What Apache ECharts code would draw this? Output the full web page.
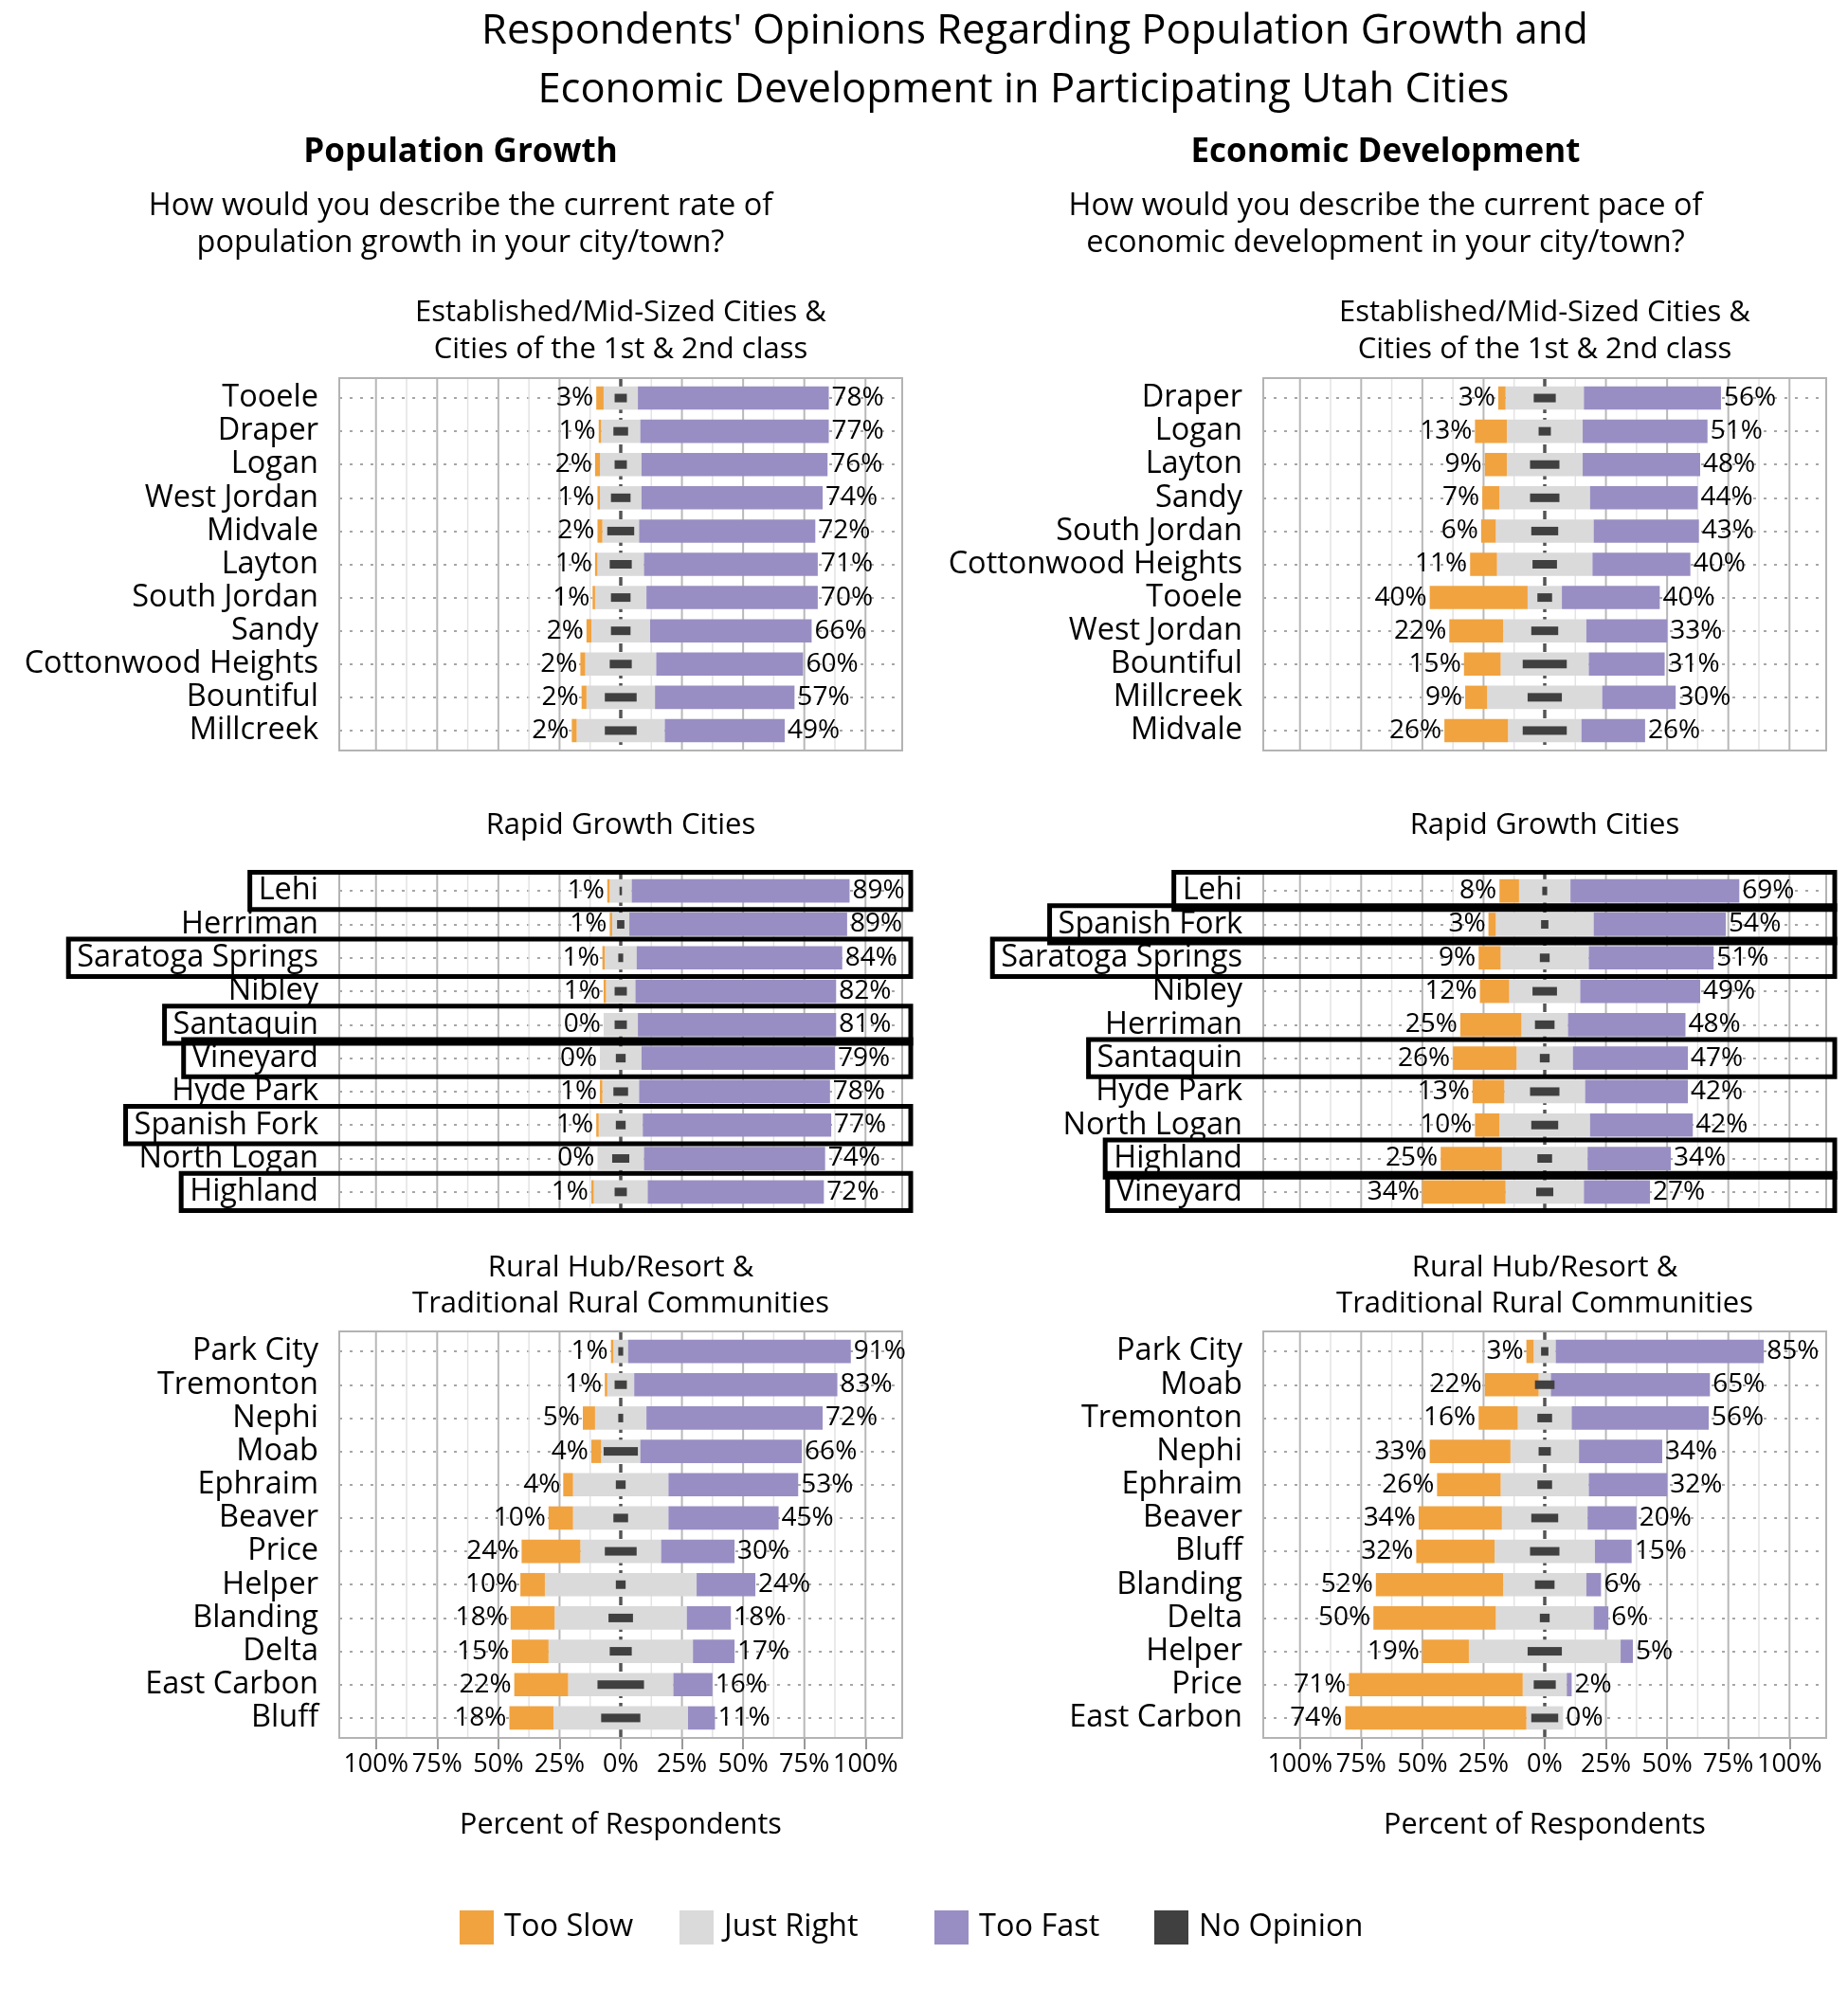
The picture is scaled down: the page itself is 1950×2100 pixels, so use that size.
<!DOCTYPE html>
<html>
<head>
<meta charset="utf-8">
<title>Population Growth and Economic Development</title>
<script src="https://cdn.jsdelivr.net/npm/echarts@6/dist/echarts.min.js"></script>
<style>
  html, body { margin: 0; padding: 0; background: #fff; }
  #chart { width: 1950px; height: 2100px; }
</style>
</head>
<body>
<div id="chart"></div>
<script>
// population growth, established / mid-sized cities
const popEstCities = ['Tooele', 'Draper', 'Logan', 'West Jordan', 'Midvale', 'Layton', 'South Jordan', 'Sandy', 'Cottonwood Heights', 'Bountiful', 'Millcreek'];
const popEstSlow = [3, 1, 2, 1, 2, 1, 1, 2, 2, 2, 2];
const popEstRight = [14, 16, 17, 17, 15, 19, 21, 24, 29, 28, 36];
const popEstFast = [78, 77, 76, 74, 72, 71, 70, 66, 60, 57, 49];
const popEstNone = [5, 6, 5, 8, 11, 9, 8, 8, 9, 13, 13];

// economic development, established / mid-sized cities
const econEstCities = ['Draper', 'Logan', 'Layton', 'Sandy', 'South Jordan', 'Cottonwood Heights', 'Tooele', 'West Jordan', 'Bountiful', 'Millcreek', 'Midvale'];
const econEstSlow = [3, 13, 9, 7, 6, 11, 40, 22, 15, 9, 26];
const econEstRight = [32, 31, 31, 37, 40, 39, 14, 34, 36, 47, 30];
const econEstFast = [56, 51, 48, 44, 43, 40, 40, 33, 31, 30, 26];
const econEstNone = [9, 5, 12, 12, 11, 10, 6, 11, 18, 14, 18];

// population growth, rapid growth cities
const popRapidCities = ['Lehi', 'Herriman', 'Saratoga Springs', 'Nibley', 'Santaquin', 'Vineyard', 'Hyde Park', 'Spanish Fork', 'North Logan', 'Highland'];
const popRapidSlow = [1, 1, 1, 1, 0, 0, 1, 1, 0, 1];
const popRapidRight = [9, 7, 13, 12, 14, 17, 15, 18, 19, 22];
const popRapidFast = [89, 89, 84, 82, 81, 79, 78, 77, 74, 72];
const popRapidNone = [1, 3, 2, 5, 5, 4, 6, 4, 7, 5];

// economic development, rapid growth cities
const econRapidCities = ['Lehi', 'Spanish Fork', 'Saratoga Springs', 'Nibley', 'Herriman', 'Santaquin', 'Hyde Park', 'North Logan', 'Highland', 'Vineyard'];
const econRapidSlow = [8, 3, 9, 12, 25, 26, 13, 10, 25, 34];
const econRapidRight = [21, 40, 36, 29, 19, 23, 33, 37, 35, 32];
const econRapidFast = [69, 54, 51, 49, 48, 47, 42, 42, 34, 27];
const econRapidNone = [2, 3, 4, 10, 8, 4, 12, 11, 6, 7];

// population growth, rural hub / resort & traditional rural
const popRuralCities = ['Park City', 'Tremonton', 'Nephi', 'Moab', 'Ephraim', 'Beaver', 'Price', 'Helper', 'Blanding', 'Delta', 'East Carbon', 'Bluff'];
const popRuralSlow = [1, 1, 5, 4, 4, 10, 24, 10, 18, 15, 22, 18];
const popRuralRight = [6, 11, 21, 16, 39, 39, 33, 62, 54, 59, 43, 55];
const popRuralFast = [91, 83, 72, 66, 53, 45, 30, 24, 18, 17, 16, 11];
const popRuralNone = [2, 5, 2, 14, 4, 6, 13, 4, 10, 9, 19, 16];

// economic development, rural hub / resort & traditional rural
const econRuralCities = ['Park City', 'Moab', 'Tremonton', 'Nephi', 'Ephraim', 'Beaver', 'Bluff', 'Blanding', 'Delta', 'Helper', 'Price', 'East Carbon'];
const econRuralSlow = [3, 22, 16, 33, 26, 34, 32, 52, 50, 19, 71, 74];
const econRuralRight = [9, 5, 22, 28, 36, 35, 41, 34, 40, 62, 18, 15];
const econRuralFast = [85, 65, 56, 34, 32, 20, 15, 6, 6, 5, 2, 0];
const econRuralNone = [3, 8, 6, 5, 6, 11, 12, 8, 4, 14, 9, 11];

// cities boxed in the rapid growth panels
const highlighted = ['Lehi', 'Saratoga Springs', 'Santaquin', 'Vineyard', 'Spanish Fork', 'Highland'];

const tickValues = [-100, -75, -50, -25, 0, 25, 50, 75, 100];
const gridMajor = [-100, -75, -50, -25, 25, 50, 75, 100];
const gridMinor = [-87.5, -62.5, -37.5, -12.5, 12.5, 37.5, 62.5, 87.5];
const legendNames = ['Too Slow', 'Just Right', 'Too Fast', 'No Opinion'];

const FONT = "'Open Sans', sans-serif";
const LABEL_SIZE = 32.5;
const LABEL_MARGIN = 22;
const COLORS = { slow: '#f1a340', right: '#dadada', fast: '#998ec3', none: '#404040' };

const panels = [
  { cities: popEstCities, slow: popEstSlow, right: popEstRight, fast: popEstFast, none: popEstNone },
  { cities: econEstCities, slow: econEstSlow, right: econEstRight, fast: econEstFast, none: econEstNone },
  { cities: popRapidCities, slow: popRapidSlow, right: popRapidRight, fast: popRapidFast, none: popRapidNone, boxed: true },
  { cities: econRapidCities, slow: econRapidSlow, right: econRapidRight, fast: econRapidFast, none: econRapidNone, boxed: true },
  { cities: popRuralCities, slow: popRuralSlow, right: popRuralRight, fast: popRuralFast, none: popRuralNone },
  { cities: econRuralCities, slow: econRuralSlow, right: econRuralRight, fast: econRuralFast, none: econRuralNone }
];

// panel geometry (outer frame); rows leave 0.6 of a band above the first and below the last city
const colLeft = [358, 1333];
const rowTop = [399, 919, 1405];
const rowHeight = [393, 360, 429];
const PANEL_W = 594;
const PAD = 0.1;

const measureCtx = document.createElement('canvas').getContext('2d');
measureCtx.font = LABEL_SIZE + 'px ' + FONT;
function labelWidth(s) {
  return measureCtx.measureText(s).width;
}

function heading(str, x, y, size, weight) {
  return {
    type: 'text', x: x, y: y, silent: true,
    style: {
      text: str, fill: '#000', fontSize: size, fontFamily: FONT, fontWeight: weight || 'normal',
      align: 'center', verticalAlign: 'middle', textAlign: 'center', textVerticalAlign: 'middle'
    }
  };
}

const grids = [];
const xAxes = [];
const yAxes = [];
const series = [];

panels.forEach((p, i) => {
  const col = i % 2;
  const row = Math.floor(i / 2);
  const bottom = row === 2;
  const band = rowHeight[row] / (p.cities.length + 2 * PAD);
  grids.push({
    left: colLeft[col], top: rowTop[row] + PAD * band, width: PANEL_W, height: band * p.cities.length,
    show: false, outerBoundsMode: 'none'
  });
  xAxes.push({
    type: 'value', gridIndex: i, min: -115, max: 115, offset: PAD * band,
    axisLine: { show: false },
    splitLine: { show: false },
    axisTick: { show: bottom, customValues: tickValues, length: 12, lineStyle: { color: '#999', width: 2 } },
    axisLabel: {
      show: bottom, customValues: tickValues, margin: 15,
      fontSize: 27, fontFamily: FONT, color: '#000',
      formatter: v => Math.abs(v) + '%'
    },
    name: bottom ? 'Percent of Respondents' : '',
    nameLocation: 'middle', nameGap: 77,
    nameTextStyle: { fontSize: 30.5, fontFamily: FONT, color: '#000' }
  });
  yAxes.push({
    type: 'category', gridIndex: i, data: p.cities, inverse: true,
    axisLine: { show: false },
    axisTick: { show: true, alignWithLabel: true, length: 10, lineStyle: { color: '#a6a6a6', width: 2, type: [3, 8] } },
    axisLabel: { interval: 0, margin: LABEL_MARGIN, fontSize: LABEL_SIZE, fontFamily: FONT, color: '#000' },
    splitLine: { show: false }
  });
  yAxes.push({ type: 'category', gridIndex: i, data: p.cities, inverse: true, show: false });

  // panel frame, vertical grid lines and the dashed zero line
  series.push({
    type: 'custom', xAxisIndex: i, yAxisIndex: 2 * i, z: 1, silent: true, clip: false,
    encode: { x: 0, y: 1 },
    data: [[0, p.cities[0]]],
    renderItem: function (params, api) {
      const cs = params.coordSys;
      const pad = PAD * api.size([0, 1])[1];
      const top = cs.y - pad;
      const bot = cs.y + cs.height + pad;
      const vline = (v, stroke, width, dash) => {
        const x = api.coord([v, 0])[0];
        return { type: 'line', shape: { x1: x, y1: top, x2: x, y2: bot }, style: { stroke: stroke, lineWidth: width, lineDash: dash || null } };
      };
      const children = [].concat(
        gridMinor.map(v => vline(v, '#e3e3e3', 1.5)),
        gridMajor.map(v => vline(v, '#b8b8b8', 2)),
        [vline(0, '#555', 3.5, [9, 5])],
        [{ type: 'rect', shape: { x: cs.x, y: top, width: cs.width, height: bot - top }, style: { fill: 'none', stroke: '#b3b3b3', lineWidth: 2 } }]
      );
      return { type: 'group', children: children };
    }
  });

  // dotted guide through each city row
  series.push({
    type: 'line', data: [], xAxisIndex: i, yAxisIndex: 2 * i, silent: true,
    markLine: {
      z: 1, silent: true, symbol: ['none', 'none'], label: { show: false }, animation: false,
      emphasis: { disabled: true },
      data: p.cities.map(c => ({ yAxis: c, lineStyle: { color: '#a6a6a6', width: 2, type: [3, 8] } }))
    }
  });

  const base = { type: 'bar', xAxisIndex: i, yAxisIndex: 2 * i, barWidth: '70%', barGap: '-100%', z: 2, silent: true };
  const valueLabel = { show: true, distance: 3, fontSize: 28, fontFamily: FONT, color: '#000' };
  series.push(Object.assign({}, base, {
    name: 'Just Right', stack: 'neg' + i, itemStyle: { color: COLORS.right },
    data: p.right.map(v => -v / 2)
  }));
  series.push(Object.assign({}, base, {
    name: 'Just Right', stack: 'pos' + i, itemStyle: { color: COLORS.right },
    data: p.right.map(v => v / 2)
  }));
  series.push(Object.assign({}, base, {
    name: 'Too Slow', stack: 'neg' + i, itemStyle: { color: COLORS.slow },
    data: p.slow.map(v => -v),
    label: Object.assign({ position: 'left', formatter: d => Math.abs(d.value) + '%' }, valueLabel)
  }));
  series.push(Object.assign({}, base, {
    name: 'Too Fast', stack: 'pos' + i, itemStyle: { color: COLORS.fast },
    data: p.fast,
    label: Object.assign({ position: 'right', formatter: d => d.value + '%' }, valueLabel)
  }));

  // no opinion sits centred on zero, drawn thin on its own category axis
  const noBase = { type: 'bar', xAxisIndex: i, yAxisIndex: 2 * i + 1, barWidth: 9, z: 3, silent: true, name: 'No Opinion', stack: 'none' + i, itemStyle: { color: COLORS.none } };
  series.push(Object.assign({}, noBase, { data: p.none.map(v => -v / 2) }));
  series.push(Object.assign({}, noBase, { data: p.none.map(v => v / 2) }));

  if (p.boxed) {
    const boxes = highlighted.filter(c => p.cities.indexOf(c) >= 0);
    series.push({
      type: 'custom', xAxisIndex: i, yAxisIndex: 2 * i, z: 5, silent: true, clip: false,
      encode: { x: 0, y: 1 },
      data: boxes.map(c => [0, c]),
      renderItem: function (params, api) {
        const name = boxes[params.dataIndex];
        const pt = api.coord([0, api.value(1)]);
        const h = api.size([0, 1])[1] + 4;
        const cs = params.coordSys;
        const x0 = cs.x - LABEL_MARGIN - labelWidth(name) - 9;
        const x1 = cs.x + cs.width + 9;
        return {
          type: 'rect',
          shape: { x: x0, y: pt[1] - h / 2, width: x1 - x0, height: h },
          style: { fill: 'none', stroke: '#000', lineWidth: 5 }
        };
      }
    });
  }
});

const graphics = [
  heading("Respondents' Opinions Regarding Population Growth and", 1092, 34, 43.5),
  heading('Economic Development in Participating Utah Cities', 1080, 96, 43.5),
  heading('Population Growth', 486, 161, 35, 'bold'),
  heading('Economic Development', 1462, 161, 35, 'bold'),
  heading('How would you describe the current rate of', 486, 218, 32.5),
  heading('population growth in your city/town?', 486, 257, 32.5),
  heading('How would you describe the current pace of', 1462, 218, 32.5),
  heading('economic development in your city/town?', 1462, 257, 32.5)
];
[655, 1630].forEach(cx => {
  graphics.push(heading('Established/Mid-Sized Cities &', cx, 330, 31));
  graphics.push(heading('Cities of the 1st & 2nd class', cx, 369, 31));
  graphics.push(heading('Rapid Growth Cities', cx, 871, 31));
  graphics.push(heading('Rural Hub/Resort &', cx, 1338, 31));
  graphics.push(heading('Traditional Rural Communities', cx, 1376, 31));
});

const legendLeft = [485, 717, 986, 1218];

const myChart = echarts.init(document.getElementById('chart'));
myChart.setOption({
  animation: false,
  backgroundColor: '#fff',
  textStyle: { fontFamily: FONT },
  grid: grids,
  xAxis: xAxes,
  yAxis: yAxes,
  legend: legendNames.map((name, k) => ({
    data: [{ name: name, icon: 'rect' }],
    left: legendLeft[k], top: 2016, padding: 0,
    itemWidth: 36, itemHeight: 36, selectedMode: false,
    textStyle: { fontSize: 32.5, fontFamily: FONT, color: '#000', padding: [0, 0, 0, 6] }
  })),
  graphic: graphics,
  series: series
});
</script>
</body>
</html>
